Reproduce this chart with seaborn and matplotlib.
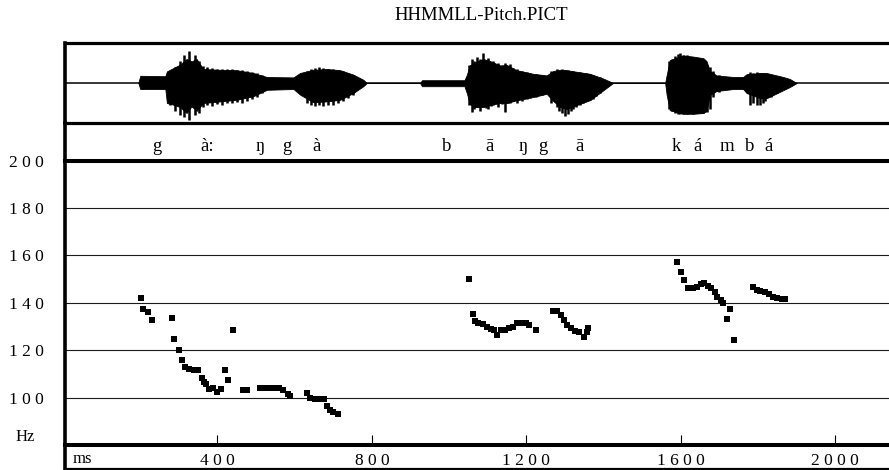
import matplotlib
matplotlib.use("Agg")
import matplotlib.pyplot as plt
import matplotlib.transforms as mtransforms
from matplotlib.ticker import FuncFormatter
import numpy as np
import pandas as pd
import seaborn as sns

# ---------------- data ----------------
title = "HHMMLL-Pitch.PICT"

# segment transcription and where each symbol sits on the time axis (ms)
segment_labels = ["g", "à:", "ŋ", "g", "à",
                  "b", "ā", "ŋ", "g", "ā",
                  "k", "á", "m", "b", "á"]
label_ms = [244, 373, 510, 580, 658,
            995, 1106, 1192, 1244, 1339,
            1588, 1645, 1720, 1780, 1829]

# waveform envelope (fraction of half panel height above / below the zero line)
wave_ms = [195, 200, 265, 269, 285, 303, 320, 333, 346, 363, 407, 450, 493, 528,
           597, 614, 648, 683, 718, 752, 778, 787,
           925, 930, 1040, 1046, 1054, 1063, 1089, 1106, 1132, 1150, 1175, 1218,
           1253, 1270, 1288, 1305, 1331, 1365, 1400, 1425,
           1560, 1564, 1572, 1607, 1633, 1659, 1667, 1676, 1693, 1737, 1762, 1771,
           1806, 1823, 1866, 1883, 1901]
wave_top = [0, 0.18, 0.17, 0.29, 0.37, 0.46, 0.6, 0.54, 0.6, 0.35, 0.33, 0.32, 0.25, 0.15,
            0.14, 0.25, 0.33, 0.35, 0.32, 0.21, 0.08, 0,
            0, 0.07, 0.07, 0.2, 0.44, 0.5, 0.6, 0.55, 0.44, 0.45, 0.32, 0.23,
            0.19, 0.3, 0.33, 0.32, 0.28, 0.23, 0.11, 0,
            0, 0.2, 0.57, 0.69, 0.66, 0.62, 0.55, 0.3, 0.19, 0.15, 0.15, 0.22,
            0.25, 0.25, 0.15, 0.1, 0]
wave_bottom = [0, 0.15, 0.15, 0.5, 0.54, 0.6, 0.75, 0.58, 0.7, 0.5, 0.46, 0.42, 0.33, 0.17,
               0.15, 0.29, 0.48, 0.46, 0.42, 0.25, 0.08, 0,
               0, 0.08, 0.08, 0.25, 0.52, 0.6, 0.6, 0.55, 0.5, 0.5, 0.43, 0.35,
               0.27, 0.45, 0.6, 0.65, 0.55, 0.43, 0.18, 0,
               0, 0.3, 0.68, 0.77, 0.77, 0.75, 0.7, 0.3, 0.2, 0.15, 0.15, 0.25,
               0.38, 0.38, 0.18, 0.1, 0]

# individual glottal pulses standing out of the envelope
pulse_ms = [277, 290, 303, 313, 325, 333, 342, 353, 362, 372, 385, 398, 411, 424, 437,
            450, 463, 476, 489, 502, 515, 631, 642, 653, 664, 674, 687, 700, 713, 726, 739, 752,
            1052, 1059, 1066, 1072, 1080, 1089, 1095, 1100, 1108, 1115, 1121, 1128, 1137,
            1146, 1152, 1158, 1165, 1176, 1182, 1188, 1195, 1201, 1210, 1225, 1240,
            1265, 1279, 1285, 1292, 1300, 1309, 1316, 1322, 1330, 1339, 1347, 1356,
            1364, 1373, 1382, 1391,
            1570, 1577, 1585, 1592, 1599, 1607, 1616, 1624, 1633, 1641, 1650, 1658,
            1668, 1675, 1685, 1700, 1779, 1788, 1797, 1806, 1813, 1820, 1835, 1850]
pulse_top = [0.3, 0.4, 0.55, 0.7, 0.8, 0.5, 0.7, 0.55, 0.42, 0.4, 0.38, 0.36, 0.36, 0.35, 0.34,
             0.33, 0.32, 0.3, 0.28, 0.25, 0.2, 0.3, 0.36, 0.38, 0.4, 0.38, 0.36, 0.34, 0.33, 0.3, 0.25, 0.2,
             0.45, 0.6, 0.55, 0.65, 0.6, 0.75, 0.55, 0.62, 0.5, 0.55, 0.45, 0.5, 0.42,
             0.5, 0.4, 0.48, 0.38, 0.35, 0.3, 0.3, 0.27, 0.28, 0.25, 0.22, 0.2,
             0.3, 0.35, 0.3, 0.35, 0.33, 0.33, 0.3, 0.3, 0.28, 0.28, 0.26, 0.25,
             0.22, 0.2, 0.18, 0.15,
             0.55, 0.6, 0.68, 0.72, 0.75, 0.7, 0.7, 0.65, 0.62, 0.6, 0.6, 0.55,
             0.45, 0.4, 0.3, 0.2, 0.27, 0.25, 0.28, 0.25, 0.25, 0.22, 0.18, 0.15]
pulse_bottom = [0.55, 0.7, 0.8, 0.85, 0.92, 0.6, 0.8, 0.75, 0.6, 0.55, 0.58, 0.52, 0.55, 0.5, 0.5,
                0.48, 0.5, 0.45, 0.4, 0.35, 0.25, 0.5, 0.55, 0.58, 0.55, 0.58, 0.55, 0.55, 0.5, 0.45, 0.38, 0.3,
                0.55, 0.72, 0.65, 0.6, 0.7, 0.55, 0.62, 0.65, 0.58, 0.55, 0.5, 0.6, 0.52,
                0.72, 0.5, 0.5, 0.45, 0.5, 0.42, 0.45, 0.4, 0.4, 0.38, 0.35, 0.3,
                0.5, 0.6, 0.7, 0.75, 0.82, 0.78, 0.7, 0.65, 0.6, 0.55, 0.5, 0.45,
                0.42, 0.4, 0.32, 0.25,
                0.65, 0.7, 0.75, 0.78, 0.78, 0.77, 0.78, 0.76, 0.78, 0.75, 0.75, 0.74,
                0.72, 0.65, 0.35, 0.22, 0.55, 0.5, 0.55, 0.55, 0.5, 0.45, 0.35, 0.25]

# F0 track (Hz)
pitch_ms = [202, 208, 221, 230, 282, 288, 300, 307, 316, 325, 338, 349, 359, 365, 370,
            379, 389, 400, 408, 420, 427, 440, 467, 476, 510, 520, 530, 540, 550, 560,
            571, 584, 587, 633, 640, 653, 666, 676, 685, 692, 700, 713,
            1052, 1061, 1067, 1076, 1087, 1098, 1108, 1117, 1125, 1134, 1145, 1155,
            1167, 1177, 1188, 1199, 1207, 1225,
            1270, 1281, 1289, 1298, 1305, 1315, 1326, 1338, 1350, 1357, 1361,
            1590, 1600, 1609, 1620, 1631, 1642, 1652, 1661, 1670, 1679, 1688, 1695,
            1704, 1711, 1728, 1719, 1738,
            1787, 1797, 1807, 1819, 1830, 1840, 1851, 1862, 1870]
pitch_hz = [141.9, 137.2, 136.0, 132.7, 133.7, 124.7, 120.0, 115.8, 113.0, 112.0, 111.7,
            111.7, 108.4, 106.7, 105.7, 103.5, 103.9, 102.5, 103.5, 111.7, 107.5, 128.5,
            103.1, 103.1, 104.2, 104.2, 104.2, 104.2, 104.2, 104.2, 103.3, 101.5, 100.5,
            102.0, 100.0, 99.3, 99.3, 99.3, 96.5, 94.8, 94.1, 93.1,
            150.1, 135.2, 132.3, 131.7, 131.0, 129.9, 128.9, 128.5, 126.4, 128.5, 128.5,
            129.2, 129.9, 131.3, 131.6, 131.3, 130.6, 128.5,
            136.5, 136.5, 134.8, 132.7, 130.6, 129.2, 128.2, 127.5, 125.6, 127.8, 129.2,
            157.2, 153.2, 149.6, 146.1, 146.1, 146.9, 147.9, 148.2, 147.2, 146.2, 144.4,
            142.6, 141.2, 139.9, 137.4, 133.2, 124.4,
            146.5, 145.4, 145.1, 144.4, 143.7, 142.6, 142.0, 141.6, 141.6]

hz_ticks = [100, 120, 140, 160, 180, 200]
ms_ticks = [400, 800, 1200, 1600, 2000]

# ---------------- style ----------------
sns.set_theme(style="white")
plt.rcParams["font.family"] = ["Liberation Serif", "DejaVu Serif"]
plt.rcParams["text.color"] = "black"

W, H = 889, 470
fig = plt.figure(figsize=(W / 100, H / 100), dpi=100)


def box(top, bottom, left=65, right=889):
    return [left / W, 1 - bottom / H, (right - left) / W, (bottom - top) / H]


ax_wave = fig.add_axes(box(43, 123))
ax_text = fig.add_axes(box(123, 160.7))
ax_pitch = fig.add_axes(box(160.7, 445))
ax_ms = fig.add_axes(box(445, 469))

XLIM = (5, 2140)
for ax in (ax_wave, ax_text, ax_pitch, ax_ms):
    ax.set_xlim(*XLIM)
    ax.patch.set_visible(False)
    for s in ax.spines.values():
        s.set_visible(False)
        s.set_color("black")
    ax.spines["left"].set_visible(True)
    ax.spines["left"].set_linewidth(2.6)

ax_wave.spines["top"].set_visible(True)
ax_wave.spines["top"].set_linewidth(2.3)
ax_wave.spines["bottom"].set_visible(True)
ax_wave.spines["bottom"].set_linewidth(2.3)
ax_pitch.spines["top"].set_visible(True)
ax_pitch.spines["top"].set_linewidth(2.9)
ax_pitch.spines["bottom"].set_visible(True)
ax_pitch.spines["bottom"].set_linewidth(2.9)
ax_ms.spines["bottom"].set_visible(True)
ax_ms.spines["bottom"].set_linewidth(1.6)

# ---- waveform ----
ax_wave.set_ylim(-1, 1)
ax_wave.axhline(0, color="black", lw=1.1)
wt = np.array(wave_top)
wb = np.array(wave_bottom)
ax_wave.fill_between(wave_ms, wt, -wb, color="black", lw=0.6, edgecolor="black")
ax_wave.vlines(pulse_ms, -np.array(pulse_bottom), np.array(pulse_top),
               color="black", lw=1.8)
ax_wave.set_xticks([])
ax_wave.set_yticks([])

# ---- transcription row ----
ax_text.set_ylim(0, 1)
ax_text.set_xticks([])
ax_text.set_yticks([])
trans = mtransforms.blended_transform_factory(ax_text.transData, ax_text.transAxes)
for lab, t in zip(segment_labels, label_ms):
    ax_text.text(t, 0.26, lab, transform=trans, ha="center", va="baseline",
                 fontsize=13.5, color="black")

# ---- pitch track ----
df = pd.DataFrame({"ms": pitch_ms, "hz": pitch_hz})
sns.scatterplot(data=df, x="ms", y="hz", ax=ax_pitch, marker="s", s=15,
                color="black", linewidth=0, legend=False, zorder=3)
ax_pitch.set_ylim(80, 200)
ax_pitch.set_xlim(*XLIM)
ax_pitch.set_xlabel("")
ax_pitch.set_ylabel("")
ax_pitch.set_yticks(hz_ticks)
ax_pitch.set_xticks(ms_ticks)
spaced = FuncFormatter(lambda v, p: " ".join(f"{v:.0f}"))
ax_pitch.yaxis.set_major_formatter(spaced)
ax_pitch.xaxis.set_major_formatter(spaced)
ax_pitch.grid(axis="y", color="#1a1a1a", lw=0.8)
ax_pitch.grid(axis="x", visible=False)
ax_pitch.set_axisbelow(True)
ax_pitch.tick_params(axis="y", length=0, pad=15.5, labelsize=12.5, labelcolor="black")
ax_pitch.tick_params(axis="x", direction="in", length=7.5, width=0.8, color="black",
                     pad=5.5, labelsize=12.5, labelcolor="black", bottom=True)

ax_ms.set_xticks([])
ax_ms.set_yticks([])

# ---- unit labels and title ----
fig.text(25 / W, 1 - 437 / H, "Hz", ha="center", va="center", fontsize=12)
fig.text(73 / W, 1 - 459 / H, "ms", ha="left", va="center", fontsize=12)
fig.text(481 / W, 1 - 15 / H, title, ha="center", va="center", fontsize=13.5)

fig.savefig("out.png", dpi=100)
